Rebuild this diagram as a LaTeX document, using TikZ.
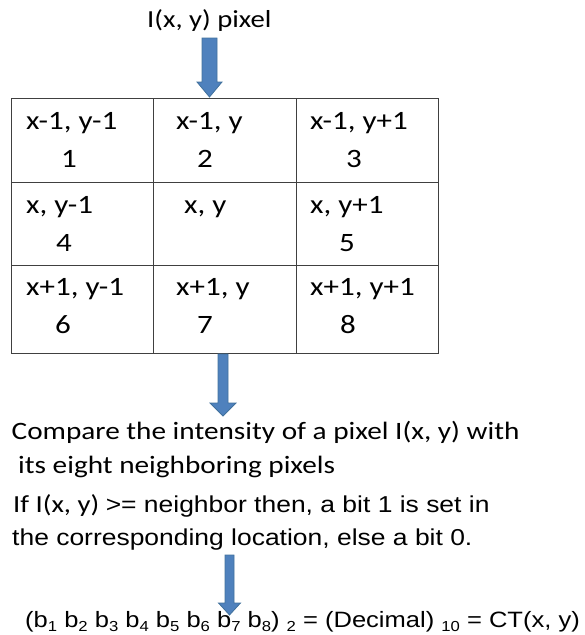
\documentclass[tikz,border=0pt]{standalone}
\usepackage{fontspec}
\setmainfont{Liberation Sans}
\newfontfamily\calfont[FakeStretch=1.17]{Carlito}
\newfontfamily\arfont[FakeStretch=1.15]{Liberation Sans}
\usetikzlibrary{calc}
\definecolor{arrowblue}{RGB}{79,129,189}
\definecolor{arrowedge}{RGB}{65,113,156}
\definecolor{gridcol}{RGB}{64,64,64}
\newcommand\lowsub[1]{\raisebox{-0.22em}{\fontsize{14.5}{14.5}\selectfont #1}}
\newcommand\blockarrow[5]{%
  \filldraw[barrow] let \p1=(#1), \p2=(#2) in
   (\x1-#3,\y1) -- (\x1+#3,\y1) -- (\x1+#3,\y2+#5) -- (\x1+#4,\y2+#5) --
   (\x1,\y2) -- (\x1-#4,\y2+#5) -- (\x1-#3,\y2+#5) -- cycle;}
\tikzset{
  lbl/.style={anchor=base west, inner sep=0pt, font=\calfont\fontsize{25}{29}\selectfont},
  celltxt/.style={anchor=base west, inner sep=0pt, font=\calfont\fontsize{26.5}{32}\selectfont},
  cellnum/.style={anchor=base, inner sep=0pt, font=\calfont\fontsize{26.5}{32}\selectfont},
  artxt/.style={anchor=base west, inner sep=0pt, font=\arfont\fontsize{23}{28}\selectfont},
  cell/.style={draw=gridcol, line width=1.3pt, minimum width=142.5pt, inner sep=0pt, anchor=north west},
  barrow/.style={fill=arrowblue, draw=arrowedge, line width=0.8pt},
}
\begin{document}
\begin{tikzpicture}[x=1pt,y=-1pt]
\useasboundingbox (0,0) rectangle (585,635);
% title
\node[lbl, font=\calfont\fontsize{24.5}{29}\selectfont] (title) at (147,27) {I(x, y) pixel};
% table cells
\node[cell, minimum height=84pt] (c11) at (10.5,98) {};
\node[cell, minimum height=84pt] (c12) at (153,98) {};
\node[cell, minimum height=84pt] (c13) at (295.5,98) {};
\node[cell, minimum height=83pt] (c21) at (10.5,182) {};
\node[cell, minimum height=83pt] (c22) at (153,182) {};
\node[cell, minimum height=83pt] (c23) at (295.5,182) {};
\node[cell, minimum height=88pt] (c31) at (10.5,265) {};
\node[cell, minimum height=88pt] (c32) at (153,265) {};
\node[cell, minimum height=88pt] (c33) at (295.5,265) {};
% cell texts
\node[celltxt] (t11) at (26,129) {x-1, y-1};
\node[cellnum] (n1) at (69,167) {1};
\node[celltxt] (t12) at (176,129) {x-1, y};
\node[cellnum] (n2) at (205,167) {2};
\node[celltxt] (t13) at (310,129) {x-1, y+1};
\node[cellnum] (n3) at (354,167) {3};
\node[celltxt] (t21) at (26,213) {x, y-1};
\node[cellnum] (n4) at (64,251) {4};
\node[celltxt] (t22) at (184,213) {x, y};
\node[celltxt] (t23) at (310,213) {x, y+1};
\node[cellnum] (n5) at (347,251) {5};
\node[celltxt] (t31) at (26,295) {x+1, y-1};
\node[cellnum] (n6) at (63,333) {6};
\node[celltxt] (t32) at (176,295) {x+1, y};
\node[cellnum] (n7) at (205,333) {7};
\node[celltxt] (t33) at (310,295) {x+1, y+1};
\node[cellnum] (n8) at (348,333) {8};
% description
\node[lbl] (cmp1) at (11.5,439) {Compare the intensity of a pixel I(x, y) with};
\node[lbl] (cmp2) at (18,473) {its eight neighboring pixels};
\node[artxt] (if1) at (13,512) {{\calfont\fontsize{24.5}{29}\selectfont If I(x, y) }>= neighbor then, a bit 1 is set in};
\node[artxt] (if2) at (12,545) {the corresponding location, else a bit 0.};
\node[artxt, font=\arfont\fontsize{22.2}{26}\selectfont] (ct) at (25,627) {(b\lowsub{1} b\lowsub{2} b\lowsub{3} b\lowsub{4} b\lowsub{5} b\lowsub{6} b\lowsub{7} b\lowsub{8}) \lowsub{2} = (Decimal) \lowsub{10} = CT(x, y)};
% arrows
\coordinate (a1s) at (209.5,38);
\coordinate (a1e) at (209.5,97);
\coordinate (a2s) at (223,354);
\coordinate (a2e) at (223,416);
\coordinate (a3s) at (229.5,555);
\coordinate (a3e) at (229.5,615);
\blockarrow{a1s}{a1e}{7.5pt}{12.5pt}{15pt}
\blockarrow{a2s}{a2e}{5pt}{13pt}{13pt}
\blockarrow{a3s}{a3e}{4.5pt}{11pt}{12pt}
\end{tikzpicture}
\end{document}
